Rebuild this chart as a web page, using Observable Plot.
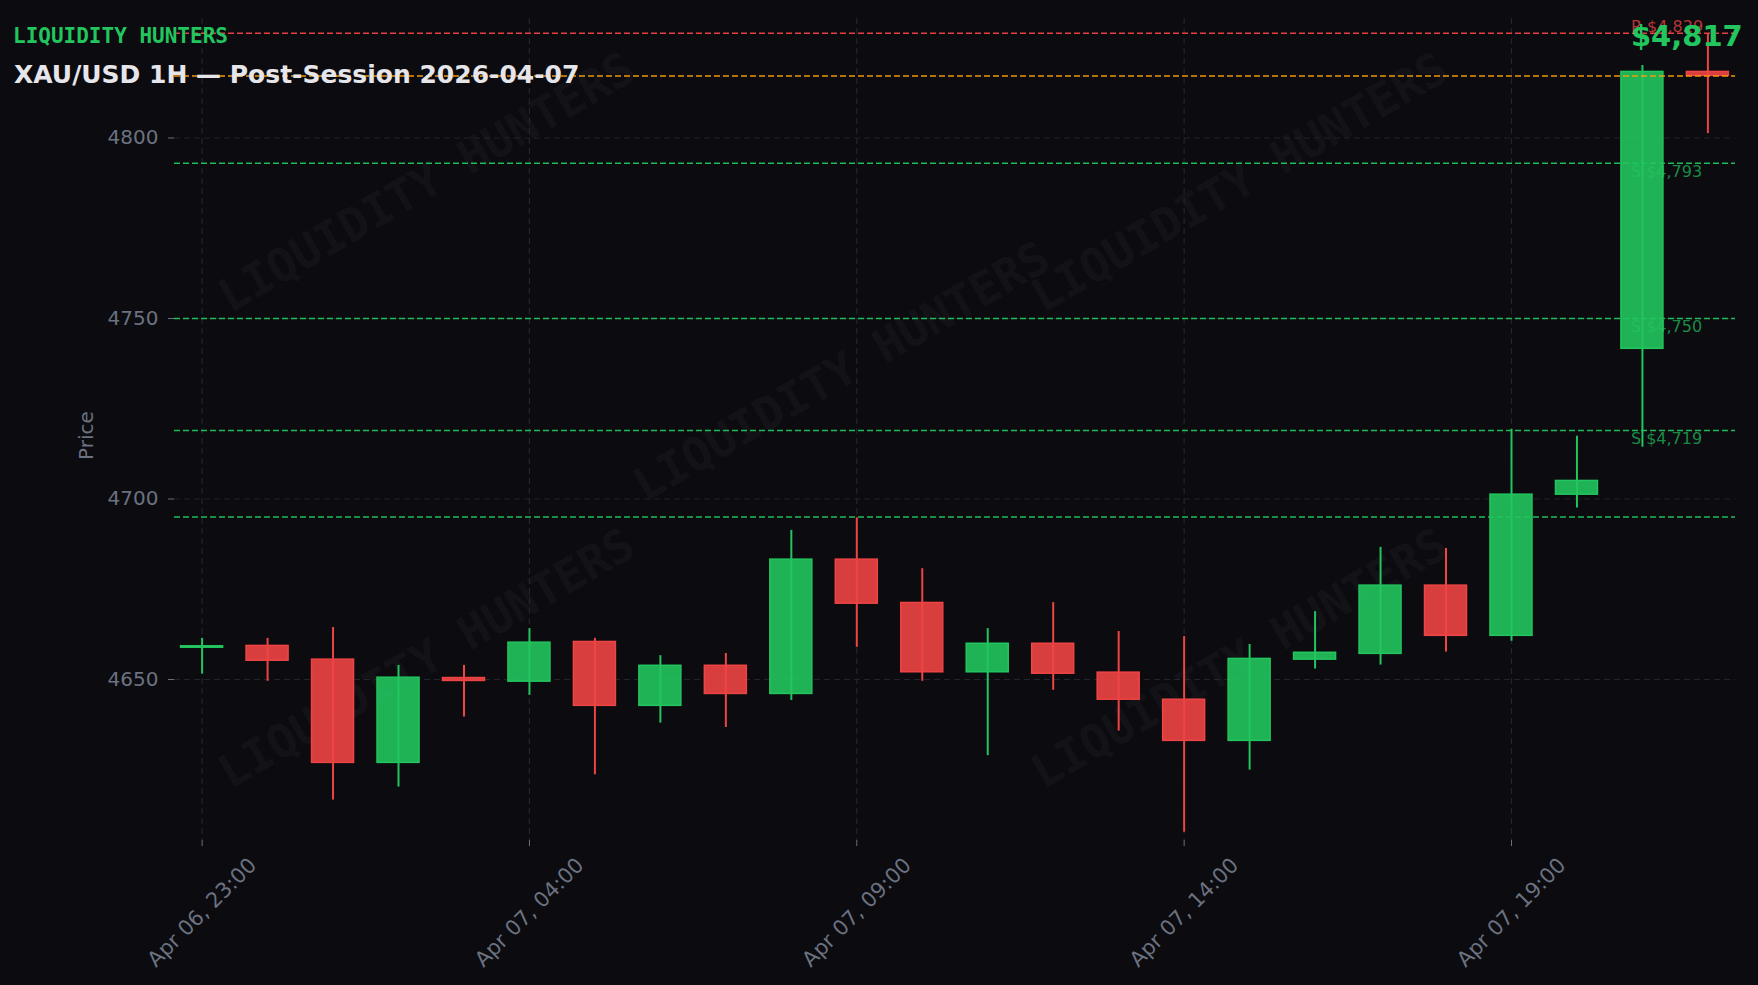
<!DOCTYPE html>
<html>
<head>
<meta charset="utf-8">
<script src="https://cdn.jsdelivr.net/npm/d3@7"></script>
<script src="https://cdn.jsdelivr.net/npm/@observablehq/plot@0.6"></script>
<style>
html,body{margin:0;padding:0;background:#0b0b10;overflow:hidden;}
#wrap{position:relative;width:1758px;height:985px;overflow:hidden;background:#0b0b10;font-family:"DejaVu Sans",sans-serif;}
.wm{position:absolute;font-family:"DejaVu Sans Mono",monospace;font-weight:bold;font-size:46px;line-height:1;color:rgba(255,255,255,0.055);white-space:nowrap;transform:translate(-50%,-50%) rotate(-30deg);z-index:0;}
#chart{position:absolute;left:0;top:0;z-index:1;}
#brand{position:absolute;left:13px;top:26px;font-family:"DejaVu Sans Mono",monospace;font-weight:bold;font-size:21px;line-height:1;color:#22c55e;z-index:2;white-space:nowrap;}
#title{position:absolute;left:14px;top:62px;font-family:"DejaVu Sans",sans-serif;font-weight:bold;font-size:25px;line-height:1;color:#e6e6ea;z-index:2;white-space:nowrap;}
</style>
</head>
<body>
<div id="wrap">
  <div class="wm" style="left:426px;top:182px">LIQUIDITY HUNTERS</div>
  <div class="wm" style="left:841px;top:371px">LIQUIDITY HUNTERS</div>
  <div class="wm" style="left:1239px;top:182px">LIQUIDITY HUNTERS</div>
  <div class="wm" style="left:426px;top:658px">LIQUIDITY HUNTERS</div>
  <div class="wm" style="left:1239px;top:658px">LIQUIDITY HUNTERS</div>
  <div id="chart"></div>
  <div id="brand">LIQUIDITY HUNTERS</div>
  <div id="title">XAU/USD 1H — Post-Session 2026-04-07</div>
</div>
<script>
// ---- data (hourly candles, UTC) ----
const times = [
  "2026-04-06T23:00Z","2026-04-07T00:00Z","2026-04-07T01:00Z","2026-04-07T02:00Z",
  "2026-04-07T03:00Z","2026-04-07T04:00Z","2026-04-07T05:00Z","2026-04-07T06:00Z",
  "2026-04-07T07:00Z","2026-04-07T08:00Z","2026-04-07T09:00Z","2026-04-07T10:00Z",
  "2026-04-07T11:00Z","2026-04-07T12:00Z","2026-04-07T13:00Z","2026-04-07T14:00Z",
  "2026-04-07T15:00Z","2026-04-07T16:00Z","2026-04-07T17:00Z","2026-04-07T18:00Z",
  "2026-04-07T19:00Z","2026-04-07T20:00Z","2026-04-07T21:00Z","2026-04-07T22:00Z"
];
const opens  = [4658.8,4659.3,4655.5,4626.9,4650.4,4649.4,4660.4,4642.7,4653.8,4646.0,4683.2,4671.2,
                4652.0,4659.9,4651.9,4644.4,4633.0,4655.5,4657.1,4676.0,4662.1,4701.2,4741.6,4818.3];
const highs  = [4661.4,4661.4,4664.4,4653.9,4653.9,4664.1,4661.4,4656.6,4657.2,4691.3,4694.8,4680.7,
                4664.1,4671.3,4663.3,4661.9,4659.7,4668.8,4686.6,4686.3,4719.3,4717.4,4820.1,4828.8];
const lows   = [4651.5,4649.5,4616.6,4620.2,4639.6,4645.6,4623.6,4637.9,4636.7,4644.2,4658.9,4649.5,
                4628.9,4647.0,4635.7,4607.7,4624.9,4652.9,4654.0,4657.6,4660.6,4697.5,4714.3,4801.2];
const closes = [4659.2,4655.2,4626.9,4650.5,4649.6,4660.2,4642.7,4653.8,4646.0,4683.2,4671.0,4652.0,
                4659.9,4651.6,4644.4,4633.0,4655.7,4657.4,4676.0,4662.1,4701.2,4705.0,4818.3,4817.2];

// key levels
const resistanceLevels = [4829];
const supportLevels = [4793, 4750, 4719];
const unlabeledSupport = [4695];

// axis ticks
const yTicks = [4650, 4700, 4750, 4800];
const xTickTimes = ["2026-04-06T23:00Z","2026-04-07T04:00Z","2026-04-07T09:00Z","2026-04-07T14:00Z","2026-04-07T19:00Z"];

// ---- build ----
const GREEN = "#22c55e", RED = "#ef4444", ORANGE = "#f59e0b", GRID = "#23252d", AXIS = "#6b7280";
const candles = times.map((t, i) => ({t: new Date(t), o: opens[i], h: highs[i], l: lows[i], c: closes[i]}));
const upC = candles.filter(d => d.c >= d.o);
const downC = candles.filter(d => d.c < d.o);
const xTicks = xTickTimes.map(s => new Date(s));
const half = 19.25 * 60 * 1000;
const lastTime = candles[candles.length - 1].t;
const lastClose = closes[closes.length - 1];
const money = d3.format(",.0f");
const xFmt = d3.utcFormat("%b %d, %H:%M");

const wick = (arr, color) => Plot.ruleX(arr, {x: "t", y1: "l", y2: "h", stroke: color, strokeWidth: 2});
const body = (arr, color) => Plot.rect(arr, {
  x1: d => new Date(+d.t - half), x2: d => new Date(+d.t + half), y1: "o", y2: "c",
  fill: color, fillOpacity: 0.9, stroke: color, strokeWidth: 1.5
});
const level = (arr, color) => Plot.ruleY(arr, {y: d => d, stroke: color, strokeWidth: 1.5, strokeDasharray: "6,3", strokeOpacity: 0.95});

const chart = Plot.plot({
  width: 1758, height: 985,
  marginLeft: 174, marginRight: 23, marginTop: 18, marginBottom: 145,
  style: {background: "transparent", color: AXIS, fontFamily: "DejaVu Sans, sans-serif", fontSize: "20px"},
  x: {type: "utc", domain: [new Date("2026-04-06T22:34:42Z"), new Date("2026-04-07T22:25:18Z")],
      ticks: xTicks, tickFormat: () => "", tickSize: 6, label: null},
  y: {domain: [4605.4, 4833.1], ticks: yTicks, tickSize: 6, tickPadding: 10, label: null, tickFormat: d3.format("d")},
  marks: [
    Plot.ruleY(yTicks, {y: d => d, stroke: GRID, strokeWidth: 1.2, strokeDasharray: "6,4"}),
    Plot.ruleX(xTicks, {x: d => d, stroke: GRID, strokeWidth: 1.2, strokeDasharray: "6,4"}),
    wick(upC, GREEN), wick(downC, RED),
    body(upC, GREEN), body(downC, RED),
    level(resistanceLevels, RED),
    level([lastClose], ORANGE),
    level(supportLevels, GREEN),
    level(unlabeledSupport, GREEN),
    Plot.text(resistanceLevels, {x: () => lastTime, y: d => d, text: d => "R $" + money(d),
      textAnchor: "start", lineAnchor: "bottom", dx: -77, dy: -1.5, fill: RED, fillOpacity: 0.75, fontSize: 16}),
    Plot.text(supportLevels, {x: () => lastTime, y: d => d, text: d => "S $" + money(d),
      textAnchor: "start", lineAnchor: "top", dx: -77, dy: 2, fill: GREEN, fillOpacity: 0.7, fontSize: 16}),
    Plot.text([lastClose], {x: () => lastTime, frameAnchor: "top", text: d => "$" + money(d),
      textAnchor: "start", lineAnchor: "top", dx: -77, dy: 7, fill: GREEN, fontSize: 29, fontWeight: "bold"}),
    Plot.text(xTicks, {x: d => d, frameAnchor: "bottom", dy: 72, rotate: -45, text: d => xFmt(d),
      textAnchor: "middle", lineAnchor: "middle", fill: AXIS, fontSize: 21}),
    Plot.text(["Price"], {frameAnchor: "left", dx: -88, dy: 6, rotate: -90, text: d => d,
      textAnchor: "middle", lineAnchor: "middle", fill: AXIS, fontSize: 20})
  ]
});
document.getElementById("chart").append(chart);
</script>
</body>
</html>
